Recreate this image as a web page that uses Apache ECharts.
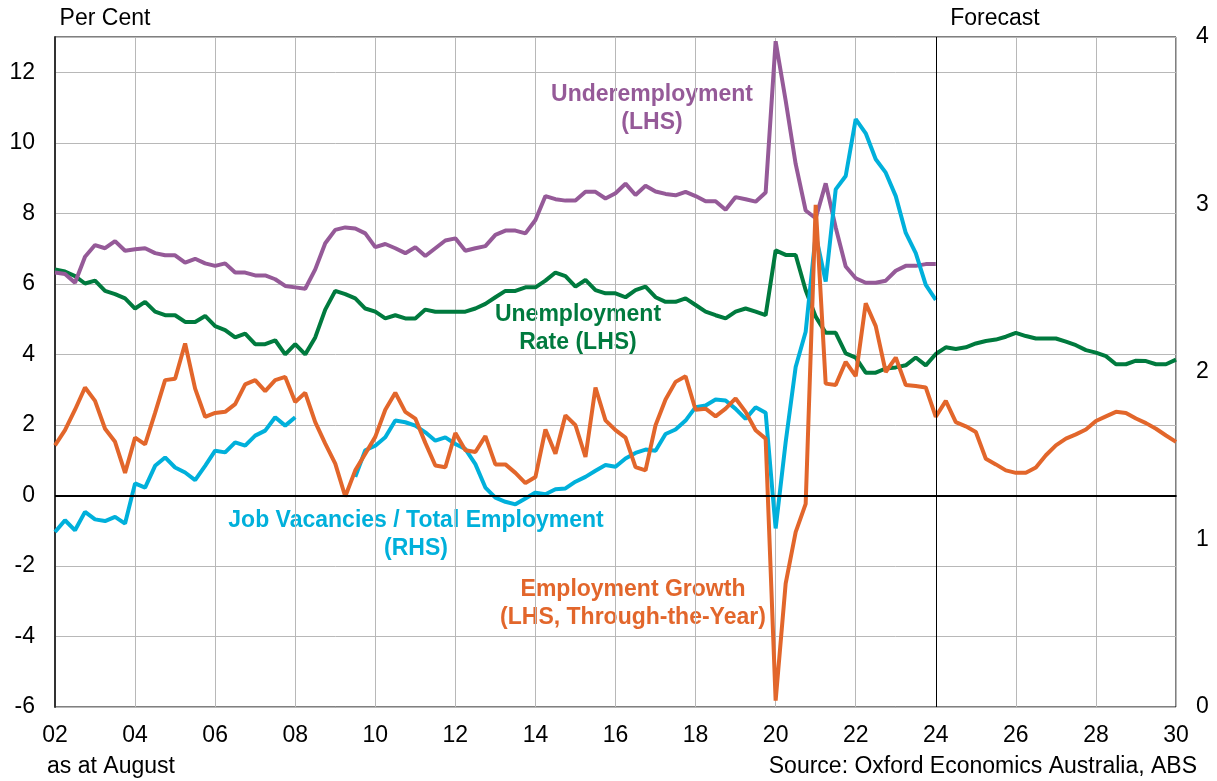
<!DOCTYPE html>
<html>
<head>
<meta charset="utf-8">
<script src="https://cdn.jsdelivr.net/npm/echarts@6/dist/echarts.min.js"></script>
<style>
    html, body { margin: 0; padding: 0; background: #fff; }
    #chart { width: 1217px; height: 781px; }
</style>
</head>
<body>
<div id="chart"></div>
<script>
// quarterly points, 2002 Q1 .. 2030 Q1
var quarters = [];
for (var yr = 2002; yr <= 2030; yr++) {
    for (var q = 1; q <= 4; q++) {
        if (yr === 2030 && q > 1) break;
        quarters.push(yr + '-Q' + q);
    }
}

var underemployment = [
    6.32, 6.28, 6.03, 6.77, 7.10, 7.01, 7.21, 6.94, 6.98, 7.01,
    6.87, 6.81, 6.81, 6.60, 6.71, 6.58, 6.51, 6.58, 6.32, 6.32,
    6.24, 6.24, 6.13, 5.94, 5.90, 5.86, 6.41, 7.15, 7.53, 7.60,
    7.57, 7.43, 7.04, 7.13, 7.01, 6.87, 7.04, 6.79, 7.01, 7.23,
    7.29, 6.94, 7.01, 7.07, 7.39, 7.51, 7.51, 7.43, 7.81, 8.49,
    8.40, 8.36, 8.36, 8.61, 8.61, 8.42, 8.57, 8.84, 8.52, 8.78,
    8.62, 8.55, 8.51, 8.61, 8.49, 8.34, 8.34, 8.10, 8.46, 8.40,
    8.33, 8.59, 12.88, 11.2, 9.4, 8.08, 7.86, 8.85, 7.6, 6.49,
    6.16, 6.03, 6.03, 6.09, 6.37, 6.51, 6.51, 6.56, 6.56
];

var unemploymentRate = [
    6.41, 6.35, 6.22, 6.01, 6.09, 5.80, 5.71, 5.59, 5.30, 5.49,
    5.21, 5.11, 5.11, 4.92, 4.92, 5.09, 4.80, 4.69, 4.48, 4.59,
    4.29, 4.29, 4.40, 4.00, 4.29, 4.00, 4.48, 5.27, 5.80, 5.71,
    5.59, 5.30, 5.21, 5.02, 5.11, 5.02, 5.02, 5.27, 5.21, 5.21,
    5.21, 5.21, 5.30, 5.43, 5.62, 5.80, 5.80, 5.90, 5.90, 6.09,
    6.32, 6.22, 5.92, 6.11, 5.82, 5.73, 5.73, 5.62, 5.82, 5.92,
    5.62, 5.49, 5.49, 5.59, 5.40, 5.21, 5.11, 5.02, 5.21, 5.30,
    5.21, 5.11, 6.95, 6.82, 6.82, 5.82, 5.07, 4.61, 4.61, 4.03,
    3.91, 3.48, 3.48, 3.60, 3.63, 3.69, 3.91, 3.69, 4.01, 4.20,
    4.15, 4.20, 4.31, 4.38, 4.42, 4.50, 4.61, 4.52, 4.45, 4.45,
    4.45, 4.36, 4.26, 4.12, 4.05, 3.95, 3.72, 3.72, 3.82, 3.81,
    3.72, 3.72, 3.85
];

var employmentGrowth = [
    1.42, 1.85, 2.43, 3.06, 2.68, 1.89, 1.52, 0.64, 1.64, 1.45,
    2.34, 3.27, 3.31, 4.31, 3.03, 2.23, 2.34, 2.37, 2.59, 3.15,
    3.27, 2.96, 3.27, 3.36, 2.65, 2.91, 2.08, 1.47, 0.90, -0.03,
    0.71, 1.18, 1.66, 2.43, 2.91, 2.37, 2.18, 1.49, 0.85, 0.80,
    1.77, 1.28, 1.23, 1.68, 0.88, 0.88, 0.64, 0.35, 0.52, 1.87,
    1.18, 2.27, 1.99, 1.09, 3.06, 2.13, 1.85, 1.64, 0.80, 0.71,
    1.99, 2.72, 3.22, 3.38, 2.43, 2.46, 2.24, 2.46, 2.75, 2.37,
    1.85, 1.61, -5.82, -2.5, -1.04, -0.24, 8.24, 3.17, 3.13, 3.79,
    3.38, 5.45, 4.80, 3.50, 3.91, 3.13, 3.10, 3.06, 2.23, 2.68,
    2.08, 1.96, 1.80, 1.04, 0.88, 0.71, 0.64, 0.64, 0.79, 1.14,
    1.42, 1.61, 1.73, 1.87, 2.11, 2.24, 2.37, 2.34, 2.18, 2.05,
    1.89, 1.70, 1.52
];

// RHS
var jobVacancies = [
    1.045, 1.115, 1.055, 1.165, 1.12, 1.11, 1.135, 1.095, 1.335, 1.31,
    1.44, 1.49, 1.43, 1.40, 1.355, 1.44, 1.53, 1.52, 1.58, 1.56,
    1.62, 1.65, 1.73, 1.68, 1.73, null, null, null, null, null,
    1.374, 1.533, 1.56, 1.61, 1.71, 1.70, 1.68, 1.64, 1.59, 1.61,
    1.57, 1.54, 1.45, 1.31, 1.25, 1.225, 1.21, 1.245, 1.28, 1.27,
    1.30, 1.305, 1.345, 1.374, 1.41, 1.445, 1.434, 1.484, 1.517, 1.537,
    1.53, 1.63, 1.657, 1.71, 1.79, 1.80, 1.836, 1.83, 1.78, 1.72,
    1.79, 1.757, 1.066, 1.58, 2.03, 2.24, 2.82, 2.54, 3.09, 3.17,
    3.51, 3.425, 3.27, 3.19, 3.05, 2.83, 2.71, 2.52, 2.43
];

var forecastStart = '2024-Q1';

var colPurple = '#955A98';
var colGreen = '#007A3E';
var colOrange = '#E2662B';
var colCyan = '#00B0DB';
var font = "'Liberation Sans', Arial, sans-serif";
var fs = 23;

function lineSeries(name, data, color, yIdx) {
    return {
        name: name,
        type: 'line',
        data: data,
        yAxisIndex: yIdx,
        symbol: 'none',
        connectNulls: false,
        lineStyle: { color: color, width: 4 },
        itemStyle: { color: color },
        z: 3
    };
}

function note(x, y, lines, color, bold) {
    return lines.map(function (t, i) {
        return {
            type: 'text',
            x: x, y: y + i * 28,
            style: {
                text: t, fill: color, align: 'center', verticalAlign: 'middle',
                font: (bold ? 'bold ' : '') + fs + 'px ' + font
            }
        };
    });
}

var chart = echarts.init(document.getElementById('chart'));

var green = lineSeries('Unemployment Rate (LHS)', unemploymentRate, colGreen, 0);
green.markLine = {
    silent: true,
    symbol: ['none', 'none'],
    label: { show: false },
    data: [
        { yAxis: 0, lineStyle: { color: '#000', width: 2, type: 'solid' } },
        { xAxis: forecastStart, lineStyle: { color: '#000', width: 1, type: 'solid' } }
    ]
};

var option = {
    animation: false,
    backgroundColor: '#fff',
    textStyle: { fontFamily: font },
    grid: {
        left: 55, right: 41, top: 37, bottom: 74,
        show: true, borderColor: '#000', borderWidth: 1
    },
    xAxis: {
        type: 'category',
        data: quarters,
        boundaryGap: false,
        axisLine: { lineStyle: { color: '#333', width: 2 } },
        axisTick: { show: false },
        axisLabel: {
            interval: 7, margin: 17, color: '#000', fontSize: fs,
            formatter: function (v) { return v.slice(2, 4); }
        },
        splitLine: { show: true, interval: 7, lineStyle: { color: '#B8B8B8', width: 1 } }
    },
    yAxis: [
        {
            type: 'value', min: -6, max: 13, interval: 2,
            axisLine: { show: true, lineStyle: { color: '#333', width: 2 } },
            axisTick: { show: false },
            axisLabel: { color: '#000', fontSize: fs, margin: 20, showMaxLabel: false },
            splitLine: { show: true, lineStyle: { color: '#B8B8B8', width: 1 } }
        },
        {
            type: 'value', min: 0, max: 4, interval: 1,
            axisLine: { show: false },
            axisTick: { show: false },
            axisLabel: { color: '#000', fontSize: fs, margin: 20 },
            splitLine: { show: false }
        }
    ],
    series: [
        green,
        lineSeries('Underemployment (LHS)', underemployment, colPurple, 0),
        lineSeries('Job Vacancies / Total Employment (RHS)', jobVacancies, colCyan, 1),
        lineSeries('Employment Growth (LHS, Through-the-Year)', employmentGrowth, colOrange, 0)
    ],
    graphic: [].concat(
        note(105, 19, ['Per Cent'], '#000', false),
        note(995, 19, ['Forecast'], '#000', false),
        note(111, 767, ['as at August'], '#000', false),
        {
            type: 'text', x: 1197, y: 767,
            style: { text: 'Source: Oxford Economics Australia, ABS', fill: '#000',
                     align: 'right', verticalAlign: 'middle', font: fs + 'px ' + font }
        },
        note(652, 95, ['Underemployment', '(LHS)'], colPurple, true),
        note(578, 315, ['Unemployment', 'Rate (LHS)'], colGreen, true),
        note(416, 521, ['Job Vacancies / Total Employment', '(RHS)'], colCyan, true),
        note(633, 590, ['Employment Growth', '(LHS, Through-the-Year)'], colOrange, true)
    )
};

chart.setOption(option);
</script>
</body>
</html>
